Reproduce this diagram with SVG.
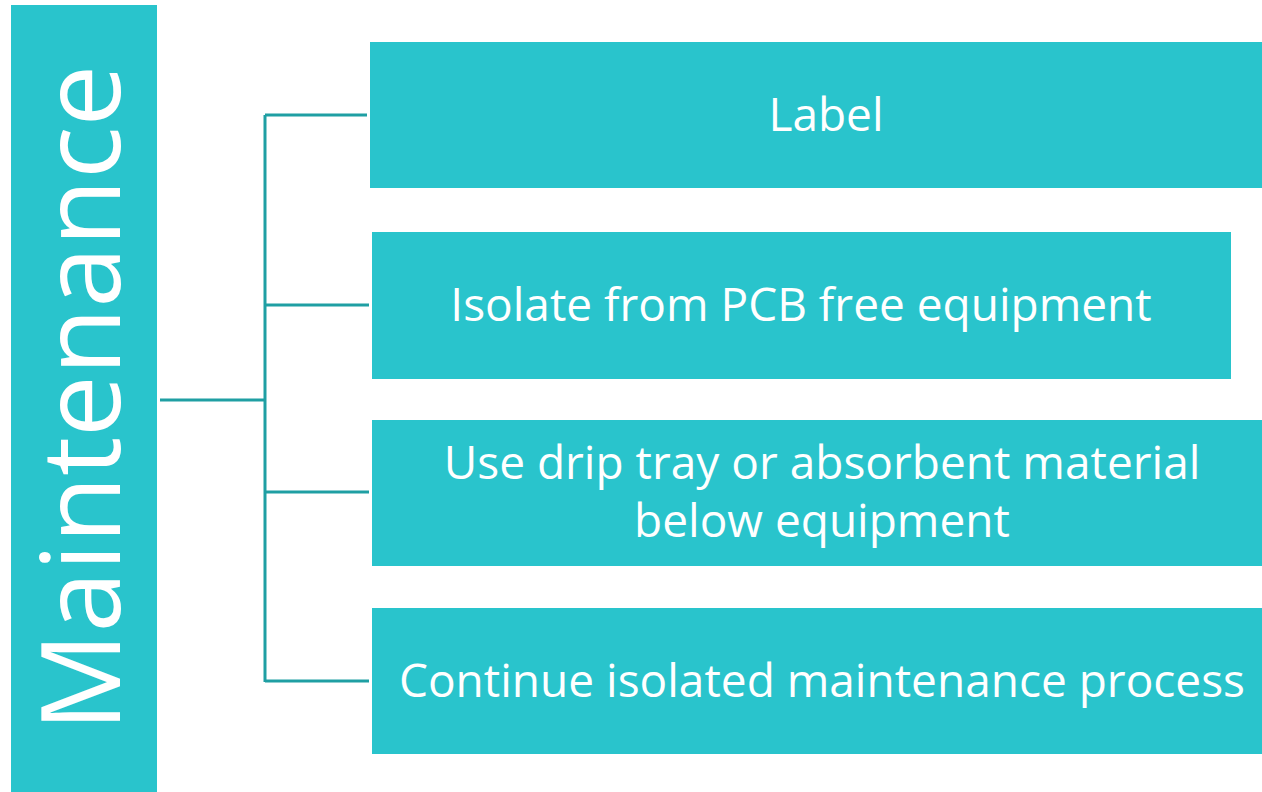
<svg xmlns="http://www.w3.org/2000/svg" width="1262" height="792" viewBox="0 0 1262 792">
<style>
.box{fill:#29c4cc}
.t{font-family:"Open Sans","Noto Sans",sans-serif;fill:#ffffff;text-anchor:middle;font-size:46px}
.c{stroke:#1f9fa3;stroke-width:3;fill:none}
</style>
<rect width="1262" height="792" fill="#ffffff"/>
<g id="root">
<rect class="box" x="11" y="5" width="146" height="787"/>
<text class="t" transform="translate(120,398) rotate(-90)" style="font-size:110px">Maintenance</text>
</g>
<g id="connectors">
<path class="c" d="M160,400H265M265,115V682M265,115H367M265,305H369M265,492H369M265,681H369"/>
</g>
<g id="n1"><rect class="box" x="370" y="42" width="892" height="146"/><text class="t" x="826" y="131">Label</text></g>
<g id="n2"><rect class="box" x="372" y="232" width="859" height="147"/><text class="t" x="801" y="321">Isolate from PCB free equipment</text></g>
<g id="n3"><rect class="box" x="372" y="420" width="890" height="146"/><text class="t" x="822" y="479">Use drip tray or absorbent material</text><text class="t" x="822" y="537">below equipment</text></g>
<g id="n4"><rect class="box" x="372" y="608" width="890" height="146"/><text class="t" x="822" y="697">Continue isolated maintenance process</text></g>
</svg>
